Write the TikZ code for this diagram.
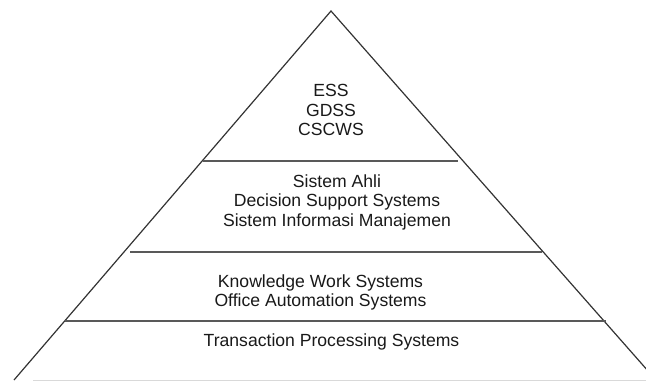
\documentclass[tikz,border=0pt]{standalone}
\usepackage{fontspec}
\setmainfont{Liberation Sans}
\begin{document}
\begin{tikzpicture}[x=1pt, y=-1pt,
  every node/.style =
  	{align=center, text=black!90,
    font=\fontsize{17.6}{19.5}\selectfont},
  side/.style = {draw=black!80, line width=1.2pt},
  divider/.style = {draw=black!65, line width=1.4pt},
  ground/.style = {draw=black!15, line width=1.2pt}
]

  \useasboundingbox (0,0) rectangle (646,381);

  \coordinate (apex) at (331,11);
  \coordinate (left) at (14,380);
  \coordinate (right) at (656,380);

  \draw[side] (left) -- (apex) -- (right);

  \coordinate (a1) at (203,161);  \coordinate (b1) at (458,161);
  \coordinate (a2) at (130,252);  \coordinate (b2) at (542,252);
  \coordinate (a3) at (65,321);   \coordinate (b3) at (606,321);
  \foreach \i in {1,2,3}
    \draw[divider] (a\i) -- (b\i);

  \coordinate (g1) at (33,380.5); \coordinate (g2) at (646,380.5);
  \draw[ground] (g1) -- (g2);

  \node (top)    at (331,110)   {ESS\\GDSS\\CSCWS};
  \node (upper)  at (337,202)   {Sistem Ahli\\Decision Support Systems\\Sistem Informasi Manajemen};
  \node (middle) at (320.5,292.5) {Knowledge Work Systems\\Office Automation Systems};
  \node (bottom) at (331.5,341.5) {Transaction Processing Systems};

\end{tikzpicture}
\end{document}
